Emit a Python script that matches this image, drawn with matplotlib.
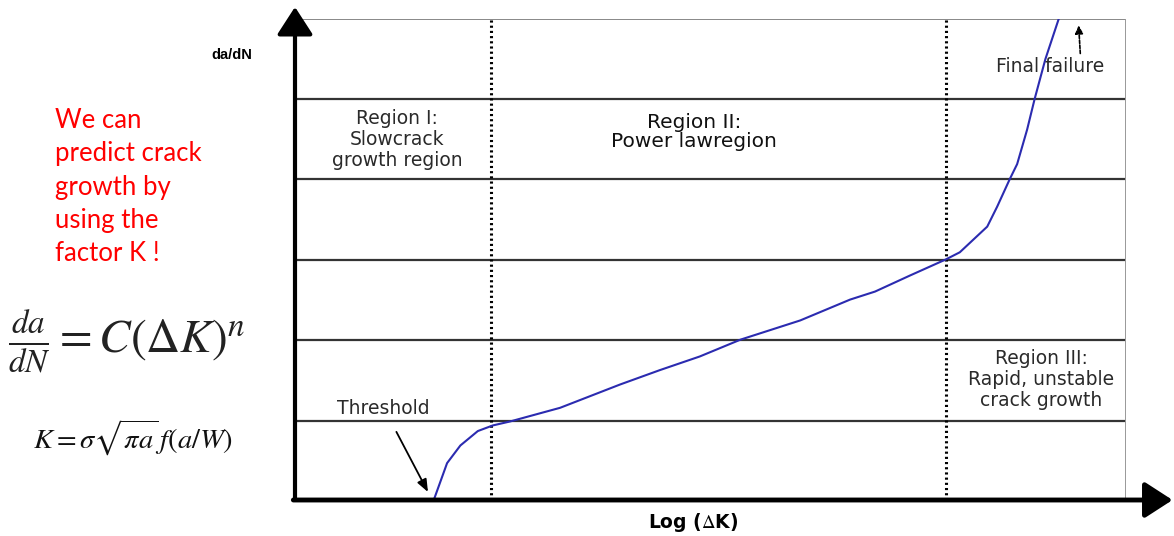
import matplotlib.pyplot as plt

# crack growth curve, x = log(dK) units, y = log(da/dN) units (one grid step = 1)
log_dk = [1.67, 1.83, 1.99, 2.20, 2.38, 2.59, 3.19, 3.91, 4.39, 4.87, 5.36,
          6.08, 6.68, 6.98, 7.40, 7.83, 8.00, 8.33, 8.45, 8.60, 8.69, 8.81,
          8.90, 9.03, 9.19]
log_dadn = [0.0, 0.46, 0.68, 0.86, 0.93, 0.98, 1.15, 1.44, 1.62, 1.79, 2.0,
            2.24, 2.5, 2.6, 2.8, 3.0, 3.09, 3.41, 3.66, 4.0, 4.19, 4.62,
            5.0, 5.5, 6.0]

region_bounds = [2.36, 7.83]
grid_levels = [0.98, 2, 3, 4, 5]

region_labels = ['Region I:\nSlowcrack\ngrowth region',
                 'Region II:\nPower lawregion',
                 'Region III:\nRapid, unstable\ncrack growth']

plt.rcParams['font.family'] = ['DejaVu Sans']
plt.rcParams['mathtext.fontset'] = 'stix'

fig = plt.figure(figsize=(11.74, 5.36), dpi=100)
ax = fig.add_axes([295/1174, 36/536, 831/1174, 481/536])
ax.set_xlim(0, 10)
ax.set_ylim(0, 6)
ax.axis('off')

# grid lines
for g in grid_levels:
    ax.axhline(g, color='#333333', lw=1.6, zorder=1)
ax.axhline(6, color='#888888', lw=1.4, zorder=1)
ax.axvline(10, color='#999999', lw=1.4, zorder=1)

# region boundaries
for b in region_bounds:
    ax.plot([b, b], [0, 6], color='black', lw=2.2, ls=(0, (0.7, 1.0)), zorder=2)

# the curve
ax.plot(log_dk, log_dadn, color='#2b2bb0', lw=1.5, zorder=3)

# axes arrows
ax.annotate('', xy=(0, 6.15), xytext=(0, 0), annotation_clip=False,
            arrowprops=dict(arrowstyle='-|>,head_length=0.85,head_width=0.55',
                            lw=3, color='black', mutation_scale=20,
                            shrinkA=0, shrinkB=0))
ax.annotate('', xy=(10.56, 0), xytext=(-0.02, 0), annotation_clip=False,
            arrowprops=dict(arrowstyle='-|>,head_length=0.85,head_width=0.55',
                            lw=3.5, color='black', mutation_scale=20,
                            shrinkA=0, shrinkB=0))

txt = dict(ha='center', va='center', color='#2a2a2a', linespacing=1.12)
ax.text(1.23, 4.50, region_labels[0], fontsize=13.5, **txt)
ax.text(4.80, 4.59, region_labels[1], fontsize=14.5, ha='center',
        va='center', color='#111111', linespacing=1.05)
ax.text(8.98, 1.50, region_labels[2], fontsize=13.5, **txt)
ax.text(9.09, 5.41, 'Final failure', fontsize=13.5, **txt)
ax.text(1.06, 1.14, 'Threshold', fontsize=13.5, **txt)

# threshold pointer
ax.annotate('', xy=(1.60, 0.10), xytext=(1.22, 0.85),
            arrowprops=dict(arrowstyle='-|>,head_length=0.5,head_width=0.2',
                            lw=1.3, color='black', mutation_scale=15,
                            shrinkA=0, shrinkB=0))
# final failure pointer
ax.annotate('', xy=(9.43, 5.92), xytext=(9.45, 5.57), annotation_clip=False,
            arrowprops=dict(arrowstyle='-|>,head_length=0.4,head_width=0.2',
                            lw=1.2, color='black', ls=(0, (2, 1)),
                            mutation_scale=12, shrinkA=0, shrinkB=0))

fig.text(232/1174, 1 - 55/536, 'da/dN', fontsize=10.5, fontweight='bold',
         ha='center', va='center', family='Liberation Sans')
fig.text(693/1174, 1 - 523/536, r'Log ($\Delta$K)', fontsize=13.5,
         fontweight='bold', ha='center', va='center')

fig.text(55/1174, 1 - 187/536,
         'We can\npredict crack\ngrowth by\nusing the\nfactor K !',
         fontsize=18.5, color='#ff0000', family=['Lato', 'DejaVu Sans'],
         ha='left', va='center', linespacing=1.42)

fig.text(8/1174, 1 - 342/536, r'$\frac{da}{dN} = C(\Delta K)^n$',
         fontsize=34, color='#222222', ha='left', va='center')
fig.text(33/1174, 1 - 438/536, r'$K = \sigma\sqrt{\pi a}\,f(a/W)$',
         fontsize=20.5, color='#111111', ha='left', va='center')

fig.savefig('out.png', dpi=100)
